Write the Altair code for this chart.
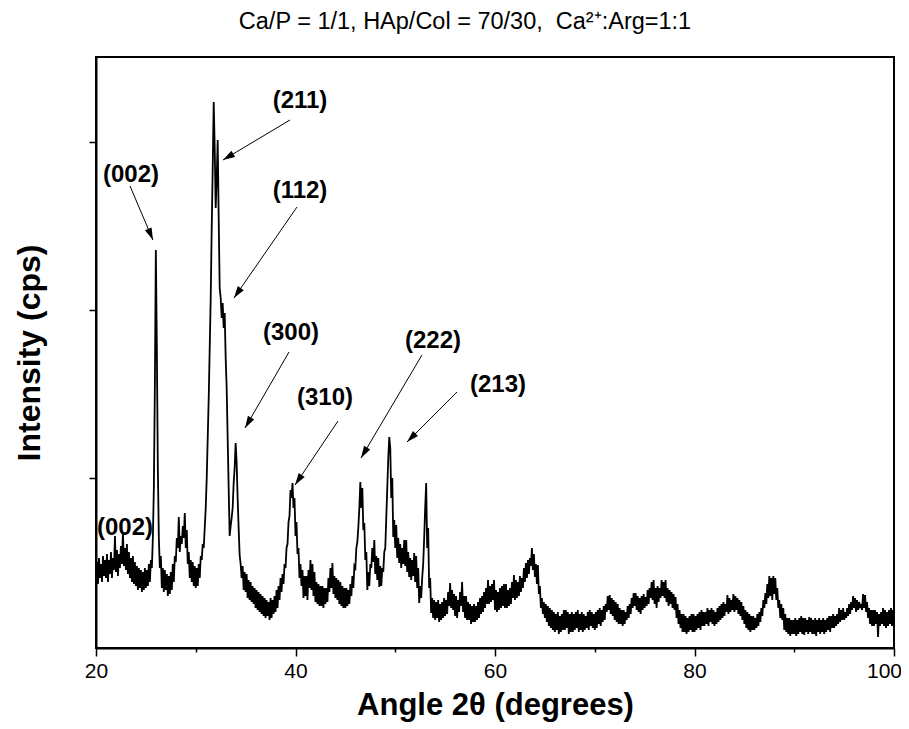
import math
import altair as alt
import pandas as pd

# ---------------- data (0.1 degree step) ----------------
ANGLE_START = 20.0
ANGLE_STEP = 0.1
INTENSITY = [
    68, 86, 64, 90, 70, 84, 66, 92, 72, 88,        # 20
    70, 94, 66, 88, 74, 96, 70, 90, 78, 112,       # 21
    76, 98, 72, 94, 80, 102, 84, 116, 82, 100,     # 22
    78, 104, 74, 96, 70, 90, 66, 92, 64, 86,       # 23
    62, 82, 58, 80, 60, 78, 56, 76, 58, 80,        # 24
    60, 78, 62, 84, 66, 88, 80, 110, 160, 260,     # 25
    398, 300, 180, 110, 80, 92, 60, 80, 56, 78,    # 26
    58, 74, 52, 72, 54, 76, 58, 84, 66, 92,        # 27
    86, 110, 100, 131, 96, 112, 104, 122, 110, 135,  # 28
    100, 118, 84, 96, 70, 88, 66, 86, 62, 82,      # 29
    60, 80, 62, 84, 70, 92, 88, 104, 100, 120,     # 30
    140, 170, 210, 250, 300, 350, 420, 480, 546, 500,  # 31
    440, 470, 508, 430, 360, 350, 330, 345, 320, 335,  # 32
    290, 260, 210, 160, 112, 122, 130, 140, 165, 180,  # 33
    205, 185, 150, 120, 93, 84, 70, 82, 58, 76,    # 34
    56, 74, 50, 68, 48, 66, 46, 62, 44, 60,        # 35
    40, 58, 38, 56, 36, 54, 34, 52, 32, 50,        # 36
    30, 48, 32, 46, 28, 50, 30, 48, 34, 52,        # 37
    36, 58, 40, 62, 48, 70, 56, 74, 64, 84,        # 38
    80, 100, 104, 126, 132, 158, 150, 165, 140, 150,  # 39
    112, 126, 94, 100, 70, 84, 62, 78, 50, 72,     # 40
    52, 72, 48, 78, 60, 88, 58, 84, 52, 76,        # 41
    46, 66, 44, 64, 42, 62, 42, 62, 40, 60,        # 42
    44, 60, 46, 70, 56, 80, 60, 85, 54, 72,        # 43
    50, 70, 48, 68, 44, 66, 42, 62, 40, 60,        # 44
    40, 60, 42, 58, 44, 64, 52, 72, 60, 82,        # 45
    80, 100, 106, 121, 140, 166, 140, 160, 118, 125,  # 46
    88, 96, 58, 76, 62, 84, 80, 100, 86, 108,      # 47
    74, 92, 68, 90, 61, 82, 62, 80, 76, 96,        # 48
    100, 130, 160, 190, 211, 200, 150, 170, 111, 128,  # 49
    100, 123, 90, 110, 85, 104, 80, 100, 84, 108,  # 50
    82, 108, 76, 96, 71, 90, 68, 88, 72, 95,       # 51
    66, 92, 60, 80, 45, 62, 50, 70, 84, 110,       # 52
    140, 165, 100, 120, 60, 70, 35, 50, 30, 48,    # 53
    28, 46, 30, 48, 26, 44, 28, 46, 30, 50,        # 54
    32, 48, 34, 56, 42, 65, 40, 58, 38, 54,        # 55
    32, 52, 30, 48, 36, 56, 42, 66, 36, 52,        # 56
    30, 52, 28, 46, 28, 44, 24, 42, 26, 44,        # 57
    26, 42, 28, 46, 30, 50, 34, 52, 36, 56,        # 58
    40, 60, 44, 68, 44, 62, 46, 64, 48, 68,        # 59
    38, 58, 36, 56, 38, 60, 40, 62, 42, 64,        # 60
    40, 64, 40, 58, 42, 60, 44, 66, 50, 73,        # 61
    48, 68, 50, 66, 52, 72, 56, 70, 60, 80,        # 62
    66, 85, 70, 88, 74, 90, 82, 100, 78, 94,       # 63
    71, 84, 64, 83, 54, 62, 40, 50, 34, 46,        # 64
    30, 44, 26, 42, 22, 40, 20, 38, 18, 36,        # 65
    16, 34, 18, 36, 14, 32, 16, 34, 18, 38,        # 66
    18, 38, 20, 36, 14, 34, 16, 36, 16, 34,        # 67
    18, 36, 20, 38, 16, 34, 18, 36, 16, 34,        # 68
    18, 32, 20, 36, 18, 38, 22, 36, 20, 34,        # 69
    18, 36, 20, 38, 24, 40, 22, 38, 26, 42,        # 70
    28, 44, 36, 52, 38, 53, 34, 50, 32, 48,        # 71
    28, 46, 26, 44, 24, 40, 24, 38, 22, 38,        # 72
    24, 36, 28, 42, 30, 44, 34, 50, 40, 55,        # 73
    42, 55, 38, 52, 36, 50, 34, 52, 38, 54,        # 74
    40, 51, 42, 58, 44, 60, 50, 66, 48, 68,        # 75
    44, 60, 40, 62, 46, 60, 50, 68, 52, 66,        # 76
    50, 68, 46, 60, 42, 58, 44, 56, 40, 54,        # 77
    38, 51, 30, 44, 24, 38, 20, 34, 16, 34,        # 78
    16, 32, 14, 30, 16, 32, 18, 34, 16, 34,        # 79
    16, 32, 18, 34, 20, 36, 18, 38, 22, 36,        # 80
    22, 36, 24, 40, 22, 38, 26, 40, 24, 38,        # 81
    22, 36, 24, 40, 26, 42, 28, 44, 30, 46,        # 82
    32, 44, 36, 53, 34, 50, 36, 48, 38, 54,        # 83
    36, 52, 38, 50, 34, 48, 32, 46, 28, 42,        # 84
    24, 38, 20, 36, 18, 34, 16, 32, 18, 32,        # 85
    18, 30, 20, 34, 22, 36, 26, 40, 32, 48,        # 86
    40, 55, 44, 64, 50, 72, 52, 70, 48, 72,        # 87
    54, 70, 48, 60, 40, 48, 30, 44, 28, 40,        # 88
    18, 34, 16, 30, 14, 30, 12, 28, 14, 28,        # 89
    14, 30, 12, 28, 14, 30, 16, 32, 14, 30,        # 90
    13, 30, 16, 28, 14, 31, 16, 30, 14, 28,        # 91
    14, 30, 12, 28, 16, 30, 14, 28, 16, 30,        # 92
    14, 28, 16, 30, 18, 32, 16, 32, 20, 34,        # 93
    20, 32, 22, 34, 24, 40, 26, 38, 28, 40,        # 94
    28, 36, 30, 40, 32, 44, 34, 46, 38, 52,        # 95
    40, 50, 36, 48, 38, 46, 40, 44, 38, 54,        # 96
    40, 53, 36, 46, 30, 40, 24, 38, 22, 38,        # 97
    22, 38, 24, 36, 11, 34, 22, 36, 24, 40,        # 98
    22, 38, 20, 36, 22, 38, 24, 40, 22, 38,        # 99
    28,                                            # 100
]
ANGLES = [round(ANGLE_START + i * ANGLE_STEP, 1) for i in range(len(INTENSITY))]

X_TICKS = [20, 30, 40, 50, 60, 70, 80, 90, 100]
Y_TICKS = [170, 338, 506]

LABEL_TEXT = ["(002)", "(211)", "(112)", "(300)", "(310)", "(222)", "(213)", "(002)"]
LABEL_X = [23.51, 40.45, 40.45, 39.55, 42.96, 53.78, 60.30, 22.91]
LABEL_Y = [473, 547, 457, 315, 250, 307, 263, 120]

ARROW_X1 = [23.41, 39.45, 40.15, 39.35, 44.26, 52.68, 56.19]
ARROW_Y1 = [462, 528, 441, 296, 227, 293, 256]
ARROW_X2 = [25.71, 32.73, 33.83, 34.94, 39.95, 46.57, 51.18]
ARROW_Y2 = [408, 488, 350, 220, 163, 190, 206]

TITLE = "Ca/P = 1/1, HAp/Col = 70/30,\u00a0 Ca\u00b2\u207a:Arg=1:1"

# ---------------- layout ----------------
W, H = 798, 591
X_DOM = [20, 100]
Y_DOM = [0, 591]
FONT = "Liberation Sans"

px_per_x = W / (X_DOM[1] - X_DOM[0])
px_per_y = H / (Y_DOM[1] - Y_DOM[0])

xs = alt.Scale(domain=X_DOM, nice=False, zero=False)
ys = alt.Scale(domain=Y_DOM, nice=False, zero=False)

df = pd.DataFrame({"angle": ANGLES, "intensity": INTENSITY})

arrows = pd.DataFrame({"x1": ARROW_X1, "y1": ARROW_Y1, "x2": ARROW_X2, "y2": ARROW_Y2})
arrows["rot"] = [
    math.degrees(math.atan2((r.x2 - r.x1) * px_per_x, (r.y2 - r.y1) * px_per_y)) % 360
    for r in arrows.itertuples()
]
labels = pd.DataFrame({"text": LABEL_TEXT, "x": LABEL_X, "y": LABEL_Y})

x_axis = alt.Axis(
    values=X_TICKS,
    labelExpr="datum.value % 20 === 0 ? datum.label : ''",
    labelFlush=False, labelAlign="center",
    labelOffset={"condition": {"test": "datum.value === 100", "value": -10}, "value": 0},
    tickSize={"condition": {"test": "datum.value % 20 === 0", "value": 8}, "value": 4},
    tickColor="black", tickWidth=1.5,
    domainColor="black", domainWidth=2,
    labelFont=FONT, labelFontSize=21, labelColor="black", labelPadding=4,
    title="Angle 2\u03b8 (degrees)", titleFont=FONT, titleFontSize=31,
    titleFontWeight="bold", titleColor="black", titlePadding=9,
    grid=False,
)
y_axis = alt.Axis(
    values=Y_TICKS, labels=False,
    tickSize=7, tickColor="black", tickWidth=1.5,
    domainColor="black", domainWidth=2,
    title="Intensity (cps)", titleFont=FONT, titleFontSize=32,
    titleFontWeight="bold", titleColor="black", titlePadding=42,
    grid=False,
)


def X(field):
    return alt.X(field, type="quantitative", scale=xs, axis=x_axis)


def Y(field):
    return alt.Y(field, type="quantitative", scale=ys, axis=y_axis)


line = alt.Chart(df).mark_line(color="black", strokeWidth=1.8).encode(
    x=X("angle"), y=Y("intensity"),
)

rules = alt.Chart(arrows).mark_rule(color="black", strokeWidth=1).encode(
    x=X("x1"), y=Y("y1"), x2="x2:Q", y2="y2:Q",
)

heads = alt.Chart(arrows).mark_point(
    shape="M0,0L0.6,2L-0.6,2Z", filled=True, color="black", opacity=1, size=144,
).encode(
    x=X("x2"), y=Y("y2"),
    angle=alt.Angle("rot:Q", scale=None),
)

texts = alt.Chart(labels).mark_text(
    font=FONT, fontSize=24, fontWeight="bold", color="black",
    align="center", baseline="middle",
).encode(
    x=X("x"), y=Y("y"), text="text:N",
)

title = alt.Chart(pd.DataFrame({"t": [TITLE]})).mark_text(
    font=FONT, fontSize=23.5, color="black", align="center", baseline="middle",
).encode(
    x=alt.value(369), y=alt.value(-35), text="t:N",
)

chart = alt.layer(line, rules, heads, texts, title).properties(
    width=W, height=H,
    autosize=alt.AutoSizeParams(type="none"),
    padding={"left": 88, "top": 49, "right": 7, "bottom": 75},
).configure(
    background="white",
).configure_view(stroke="black", strokeWidth=2)

chart.save("out.html", embed_options={"renderer": "svg", "actions": False})
